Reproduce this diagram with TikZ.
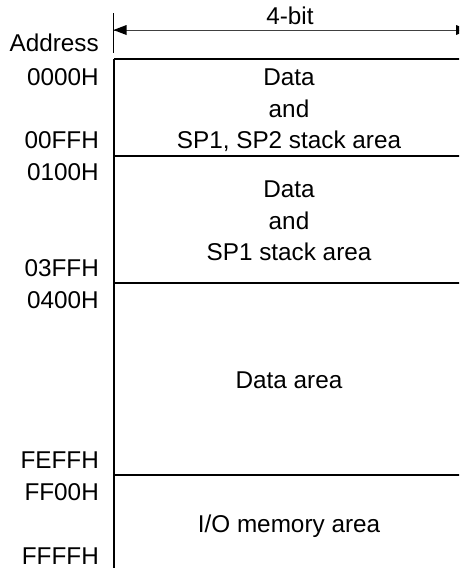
\documentclass[tikz,border=0pt]{standalone}
\usepackage{fontspec}
\setmainfont{Liberation Sans}
\begin{document}
\begin{tikzpicture}[x=1pt,y=-1pt,
  lbl/.style={anchor=base east, inner sep=0pt, font=\fontsize{24.3}{28}\selectfont},
  txt/.style={anchor=base, inner sep=0pt, font=\fontsize{24.3}{28}\selectfont},
  ln/.style={line width=1.5pt},
  dimline/.style={line width=1pt, draw=black!75},
  tiphead/.style={fill=black}]
\useasboundingbox (0,0) rectangle (459,568);
\clip (0,0) rectangle (459,568);
% box geometry
\coordinate (L0) at (114,59);  \coordinate (R0) at (480,59);
\coordinate (L1) at (114,156); \coordinate (R1) at (480,156);
\coordinate (L2) at (114,283); \coordinate (R2) at (480,283);
\coordinate (L3) at (114,475); \coordinate (R3) at (480,475);
\coordinate (LB) at (114,590);
\draw[ln] (L0) -- (R0);
\draw[ln] (L1) -- (R1);
\draw[ln] (L2) -- (R2);
\draw[ln] (L3) -- (R3);
\draw[ln] (L0) -- (LB);
% dimension
\coordinate (tkA) at (113,13); \coordinate (tkB) at (113,53);
\coordinate (dA) at (113.5,30); \coordinate (dB) at (469,30);
\draw[line width=1pt] (tkA) -- (tkB);
\draw[dimline] (dA) -- (dB);
\fill[tiphead] (dA) -- ++(13,-5) -- ++(0,10) -- cycle;
\fill[tiphead] (dB) -- ++(-13,-5) -- ++(0,10) -- cycle;
\node[txt] (bits) at (290,24) {4-bit};
% address labels
\node[lbl] (addr) at (99,51) {Address};
\node[lbl] (a0) at (99,85) {0000H};
\node[lbl] (a1) at (99,148) {00FFH};
\node[lbl] (a2) at (99,180) {0100H};
\node[lbl] (a3) at (99,276) {03FFH};
\node[lbl] (a4) at (99,308) {0400H};
\node[lbl] (a5) at (99,468) {FEFFH};
\node[lbl] (a6) at (99,500) {FF00H};
\node[lbl] (a7) at (99,564) {FFFFH};
% area texts
\node[txt] (t1) at (289,85) {Data};
\node[txt] (t2) at (289,117) {and};
\node[txt] (t3) at (289,148) {SP1, SP2 stack area};
\node[txt] (t4) at (289,197) {Data};
\node[txt] (t5) at (289,229) {and};
\node[txt] (t6) at (289,260) {SP1 stack area};
\node[txt] (t7) at (289,388) {Data area};
\node[txt] (t8) at (289,532) {I/O memory area};
\end{tikzpicture}
\end{document}
